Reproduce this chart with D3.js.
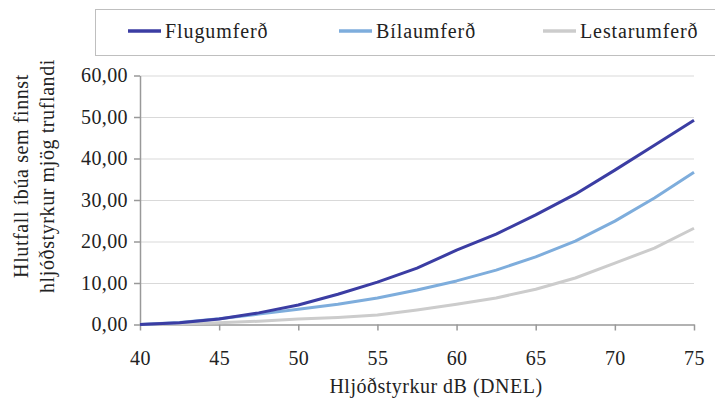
<!DOCTYPE html>
<html lang="is">
<head>
  <meta charset="utf-8">
  <script src="https://d3js.org/d3.v7.min.js"></script>
  <style>
    body { margin: 0; background: #fff; }
    svg text { font-family: "Liberation Serif", "Times New Roman", serif; fill: #222; }
    .grid line { stroke: #d9d9d9; stroke-width: 1; }
    .axis path, .axis line { stroke: #999; stroke-width: 1.5; }
  </style>
</head>
<body>
  <svg width="715" height="398"></svg>
  <script>
    // Hljóðstyrkur (dB DNEL) and share of residents highly annoyed (%)
    var dbLevels = [40, 42.5, 45, 47.5, 50, 52.5, 55, 57.5, 60, 62.5, 65, 67.5, 70, 72.5, 75];
    var flug   = [0, 0.4, 1.3, 2.8, 4.7, 7.3, 10.2, 13.6, 17.9, 21.8, 26.4, 31.4, 37.2, 43.2, 49.2];
    var bil    = [0, 0.5, 1.4, 2.5, 3.7, 4.9, 6.4, 8.3, 10.5, 13.1, 16.3, 20.1, 24.9, 30.5, 36.7];
    var lestar = [0, 0.1, 0.4, 0.8, 1.3, 1.7, 2.3, 3.5, 4.9, 6.4, 8.5, 11.2, 14.8, 18.4, 23.2];
    var seriesNames = ["Flugumferð", "Bílaumferð", "Lestarumferð"];
    var seriesColors = ["#3b3da3", "#7eaddc", "#cccccc"];
    var xTicks = [40, 45, 50, 55, 60, 65, 70, 75];
    var yTicks = [0, 10, 20, 30, 40, 50, 60];

    var svg = d3.select("svg");
    var plotLeft = 140, plotRight = 694, plotTop = 75.5, plotBottom = 324.5;

    var x = d3.scaleLinear().domain([40, 75]).range([plotLeft, plotRight]);
    var y = d3.scaleLinear().domain([0, 60]).range([plotBottom, plotTop]);
    var fmt = function (d) { return d3.format(".2f")(d).replace(".", ","); };

    // gridlines
    svg.append("g")
      .attr("class", "grid")
      .attr("transform", "translate(" + plotLeft + ",0)")
      .call(d3.axisRight(y).tickValues(yTicks.slice(1)).tickSize(plotRight - plotLeft).tickFormat(""))
      .call(function (g) { g.select(".domain").remove(); });

    var yAxis = svg.append("g")
      .attr("class", "axis")
      .attr("transform", "translate(" + plotLeft + ",0)")
      .call(d3.axisLeft(y).tickValues(yTicks).tickSize(6).tickSizeOuter(0).tickPadding(6).tickFormat(fmt));
    yAxis.selectAll("text").style("font-size", "20px").style("letter-spacing", "0.4px");

    var xAxis = svg.append("g")
      .attr("class", "axis")
      .attr("transform", "translate(0," + plotBottom + ")")
      .call(d3.axisBottom(x).tickValues(xTicks).tickSize(6).tickSizeOuter(0).tickPadding(20));
    xAxis.selectAll("text").style("font-size", "20px").style("letter-spacing", "0.4px");

    // lines
    var seriesData = [flug, bil, lestar];
    var line = d3.line()
      .x(function (d, i) { return x(dbLevels[i]); })
      .y(function (d) { return y(d); });

    svg.append("g").selectAll("path")
      .data(seriesData.slice().reverse())
      .enter().append("path")
      .attr("fill", "none")
      .attr("stroke", function (d, i) { return seriesColors[2 - i]; })
      .attr("stroke-width", 3)
      .attr("stroke-linejoin", "round")
      .attr("d", line);

    // axis titles
    svg.append("text")
      .attr("x", 436).attr("y", 393)
      .attr("text-anchor", "middle")
      .style("font-size", "20px").style("letter-spacing", "0.5px")
      .text("Hljóðstyrkur dB (DNEL)");

    var yt = svg.append("text")
      .attr("transform", "translate(0,176) rotate(-90)")
      .attr("text-anchor", "middle")
      .style("font-size", "20px").style("letter-spacing", "0.6px");
    yt.append("tspan").attr("x", 0).attr("y", 28).text("Hlutfall íbúa sem finnst");
    yt.append("tspan").attr("x", 0).attr("y", 54).text("hljóðstyrkur mjög truflandi");

    // legend
    svg.append("rect")
      .attr("x", 95.5).attr("y", 9.5).attr("width", 630).attr("height", 46)
      .attr("fill", "#fff").attr("stroke", "#bfbfbf");

    var legendX = [128, 339, 543];
    var lg = svg.append("g").selectAll("g")
      .data(seriesNames)
      .enter().append("g")
      .attr("transform", function (d, i) { return "translate(" + legendX[i] + ",31)"; });
    lg.append("line")
      .attr("x1", 0).attr("x2", 33)
      .attr("stroke", function (d, i) { return seriesColors[i]; })
      .attr("stroke-width", 3.5);
    lg.append("text")
      .attr("x", 37).attr("dy", "0.34em")
      .style("font-size", "20px").style("letter-spacing", "0.9px")
      .text(function (d) { return d; });
  </script>
</body>
</html>
